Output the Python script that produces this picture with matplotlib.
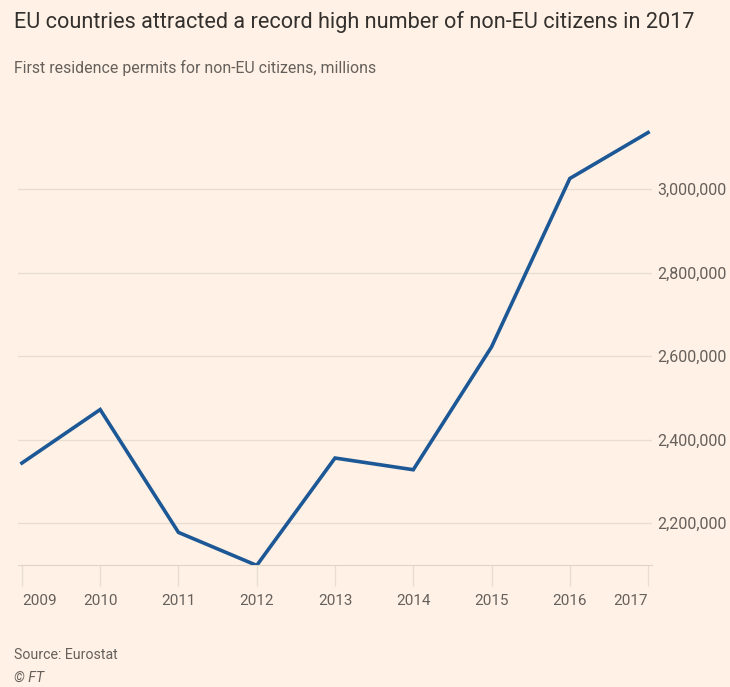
import matplotlib.pyplot as plt
from matplotlib.ticker import FuncFormatter

years = [2009, 2010, 2011, 2012, 2013, 2014, 2015, 2016, 2017]
permits = [2344000, 2472000, 2178000, 2099000, 2356000, 2328000, 2622000, 3025000, 3135000]
yticks = [2200000, 2400000, 2600000, 2800000, 3000000]

bg = '#fff1e5'
grid_col = '#e9ddd2'
text_col = '#66605c'
plt.rcParams['font.family'] = ['Roboto', 'DejaVu Sans']

fig = plt.figure(figsize=(7.3, 6.87), dpi=100, facecolor=bg)
ax = fig.add_axes([18 / 730, (687 - 565) / 687, 634 / 730, 445 / 687])
ax.set_facecolor(bg)

ax.plot(years, permits, color='#1c5796', lw=2.6, solid_joinstyle='miter', zorder=3)

ax.set_xlim(2008.95, 2017.05)
ax.set_ylim(2100000, 3165000)

# y axis on the right, labels only
ax.yaxis.tick_right()
ax.set_yticks(yticks)
ax.yaxis.set_major_formatter(FuncFormatter(lambda v, p: f'{int(v):,}'))
ax.tick_params(axis='y', length=0, pad=4, labelsize=11.5, labelcolor=text_col)
ax.grid(axis='y', color=grid_col, lw=1)

ax.set_xticks(years)
ax.set_xticklabels([str(y) for y in years])
ax.tick_params(axis='x', length=15, width=1, color=grid_col, pad=6,
               labelsize=11, labelcolor=text_col)
labels = ax.get_xticklabels()
labels[0].set_horizontalalignment('left')
labels[-1].set_horizontalalignment('right')

for s in ['top', 'left', 'right']:
    ax.spines[s].set_visible(False)
ax.spines['bottom'].set_color('#e0d3c8')

fig.text(14 / 730, 1 - 22 / 687, 'EU countries attracted a record high number of non-EU citizens in 2017',
         fontsize=15.6, color='#33302e', va='center', ha='left')
fig.text(14 / 730, 1 - 68 / 687, 'First residence permits for non-EU citizens, millions',
         fontsize=11.4, color=text_col, va='center', ha='left')
fig.text(14 / 730, 1 - 655 / 687, 'Source: Eurostat',
         fontsize=10.2, color=text_col, va='center', ha='left')
fig.text(14 / 730, 1 - 678 / 687, '\u00a9 FT',
         fontsize=10.2, color=text_col, va='center', ha='left', style='italic')

fig.savefig('out.png', dpi=100, facecolor=bg)
